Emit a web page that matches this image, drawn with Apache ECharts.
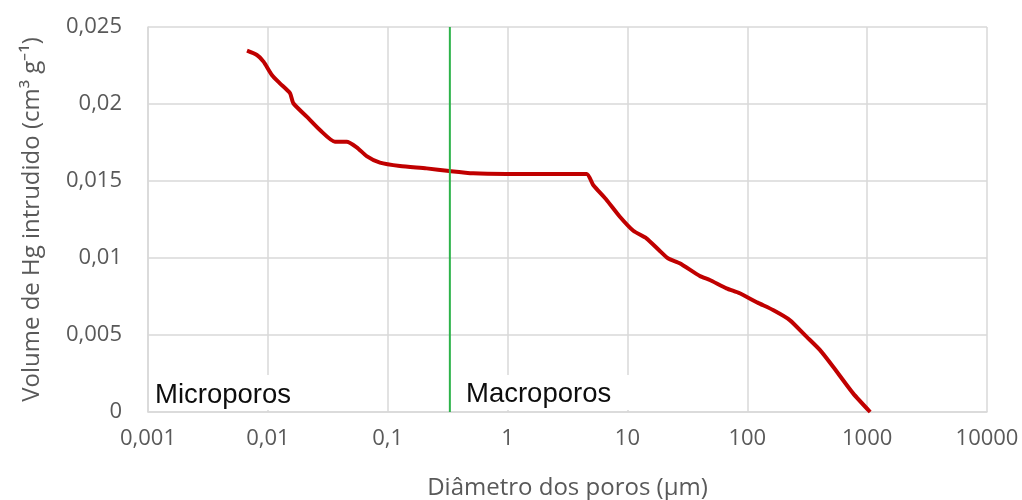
<!DOCTYPE html>
<html>
<head>
<meta charset="utf-8">
<script src="https://cdn.jsdelivr.net/npm/echarts@6/dist/echarts.min.js"></script>
<style>html,body{margin:0;padding:0;background:#fff}#c{width:1022px;height:500px}</style>
</head>
<body>
<div id="c"></div>
<script>
// Pore diameter (µm) and intruded Hg volume (cm3 g-1)
const diameters = [0.0067,0.0081,0.0092,0.0108,0.0126,0.0153,0.0163,0.0211,0.0272,0.0363,0.0454,0.0551,0.0667,0.0861,0.1265,0.211,0.326,0.516,0.98,4.56,5.18,6.70,8.65,11.2,14.4,18.3,21.8,27.3,40.2,48.7,67,86.5,122,164,226,312,403,520,764,1060];
const volumes   = [0.02346,0.02318,0.02275,0.02188,0.02134,0.0207,0.02005,0.01918,0.01831,0.01755,0.01755,0.01719,0.01662,0.01619,0.01597,0.01582,0.01565,0.0155,0.01546,0.01546,0.01474,0.01377,0.01268,0.01177,0.01128,0.01052,0.00998,0.00966,0.00883,0.00857,0.00803,0.00771,0.0071,0.00662,0.00597,0.00489,0.00403,0.00294,0.00121,0];
const boundaryDiameter = [0.33, 0.33];
const boundaryVolume = [0, 0.025];
const xTickLabels = ['0,001','0,01','0,1','1','10','100','1000','10000'];
const yTickLabels = ['0','0,005','0,01','0,015','0,02','0,025'];
const regionLabels = ['Microporos','Macroporos'];
const xTitle = 'Diâmetro dos poros (µm)';
const yTitle = 'Volume de Hg intrudido (cm³ g⁻¹)';

const chart = echarts.init(document.getElementById('c'), null, {renderer:'canvas'});
const gridColor = '#d9d9d9';
const labelColor = '#595959';
const tickFont = 'Open Sans';

const option = {
  animation: false,
  backgroundColor: '#fff',
  grid: {left: 148, right: 35, top: 27, bottom: 88, containLabel: false, outerBoundsMode: 'none'},
  xAxis: {
    type: 'log', logBase: 10, min: 0.001, max: 10000,
    axisLine: {show: true, lineStyle: {color: gridColor, width: 1.5}},
    axisTick: {show: false},
    splitLine: {show: true, lineStyle: {color: gridColor, width: 1.5}},
    minorTick: {show: false},
    axisLabel: {
      color: labelColor, fontFamily: tickFont, fontSize: 22, margin: 16,
      formatter: function (v) { const i = Math.round(Math.log10(v)) + 3; return xTickLabels[i] || ''; }
    },
    name: xTitle, nameLocation: 'middle', nameGap: 64,
    nameTextStyle: {color: labelColor, fontFamily: tickFont, fontSize: 24}
  },
  yAxis: {
    type: 'value', min: 0, max: 0.025, interval: 0.005,
    axisLine: {show: true, lineStyle: {color: gridColor, width: 1.5}},
    axisTick: {show: false},
    splitLine: {show: true, lineStyle: {color: gridColor, width: 1.5}},
    axisLabel: {
      color: labelColor, fontFamily: tickFont, fontSize: 22, margin: 26,
      formatter: function (v) { const i = Math.round(v / 0.005); return yTickLabels[i] || ''; }
    },
    name: yTitle, nameLocation: 'middle', nameGap: 104, nameRotate: 90,
    nameTextStyle: {color: labelColor, fontFamily: tickFont, fontSize: 24}
  },
  series: [
    {
      type: 'line', name: 'intrusao',
      data: diameters.map((d, i) => [d, volumes[i]]),
      symbol: 'none', smooth: 0.2,
      lineStyle: {color: '#C00000', width: 4},
      z: 3
    },
    {
      type: 'line', name: 'limite',
      data: boundaryDiameter.map((d, i) => [d, boundaryVolume[i]]),
      symbol: 'none',
      lineStyle: {color: '#2DB34A', width: 2},
      z: 4
    }
  ],
  graphic: [
    {type: 'rect', shape: {x: 150, y: 375, width: 150, height: 35}, style: {fill: '#fff'}, z: 10},
    {type: 'text', x: 155, y: 395, style: {text: regionLabels[0], font: '27.5px "Liberation Sans", Arial', fill: '#0d0d0d', verticalAlign: 'middle'}, z: 11},
    {type: 'rect', shape: {x: 458, y: 375, width: 182, height: 35}, style: {fill: '#fff'}, z: 10},
    {type: 'text', x: 466, y: 394, style: {text: regionLabels[1], font: '27.5px "Liberation Sans", Arial', fill: '#0d0d0d', verticalAlign: 'middle'}, z: 11}
  ]
};
chart.setOption(option);
</script>
</body>
</html>
